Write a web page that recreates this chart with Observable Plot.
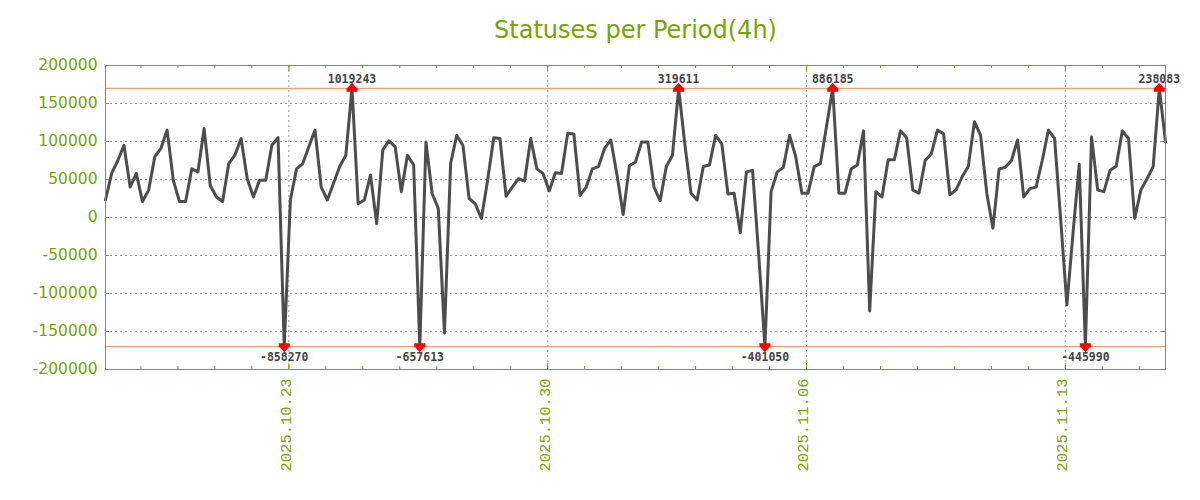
<!DOCTYPE html>
<html>
<head>
<meta charset="utf-8">
<script src="https://cdn.jsdelivr.net/npm/d3@7"></script>
<script src="https://cdn.jsdelivr.net/npm/@observablehq/plot@0.6"></script>
<style>
  body { margin: 0; background: #ffffff; }
</style>
</head>
<body>
<div id="chart"></div>
<script>
// ---- data ----
const title = "Statuses per Period(4h)";
const startTime = "2025-10-18T01:00:00Z";
const stepHours = 4;
const values = [
  23000, 58000, 75000, 95000, 40000, 58000, 21000, 36000, 80000, 91000,
  115000, 49000, 21000, 21000, 64000, 60000, 117000, 42000, 27000, 21000,
  71000, 82000, 104000, 51000, 27000, 49000, 49000, 95000, 105000, -858270,
  23000, 64000, 71000, 93000, 115000, 40000, 23000, 45000, 67000, 82000,
  1019243, 18000, 23000, 56000, -8000, 89000, 101000, 93000, 34000, 82000,
  69000, -657613, 99500, 31600, 12000, -152000, 71000, 108000, 95000, 25000,
  18000, -1300, 49000, 105000, 104000, 28000, 40000, 51000, 48000, 104000,
  64000, 58000, 35000, 59000, 58000, 111000, 110000, 29000, 40000, 64000,
  67000, 91000, 102000, 56000, 4000, 68000, 73000, 99500, 99500, 40000,
  22000, 67000, 82000, 319611, 97000, 32000, 23000, 67000, 69000, 108000,
  97000, 31000, 32000, -20000, 60000, 62000, -50000, -401050, 34000, 60000,
  66000, 108000, 80000, 32000, 32000, 67000, 71000, 120000, 886185, 32000,
  32000, 64000, 69000, 114000, -123000, 34000, 27000, 76000, 76000, 114000,
  105000, 36000, 32000, 75000, 84000, 115000, 110000, 30000, 36000, 53500,
  67000, 126000, 108000, 32000, -14000, 64000, 66000, 75000, 102000, 27000,
  38000, 40000, 75000, 115000, 104000, -3500, -115000, -20000, 70000, -445990,
  106000, 36000, 34000, 62000, 67500, 114000, 104000, -1300, 36000, 51000,
  67000, 238083, 99500
];
const clipLimit = 170000;
const yTicks = [-200000, -150000, -100000, -50000, 0, 50000, 100000, 150000, 200000];
const dateTicks = ["2025-10-23", "2025-10-30", "2025-11-06", "2025-11-13"];

// ---- derived ----
const t0 = new Date(startTime);
const data = values.map((v, i) => ({
  date: new Date(+t0 + i * stepHours * 3600e3),
  value: v,
  shown: Math.max(-clipLimit, Math.min(clipLimit, v))
}));
const clippedTop = data.filter(d => d.value > clipLimit);
const clippedBottom = data.filter(d => d.value < -clipLimit);
const majors = dateTicks.map(s => new Date(s + "T00:00:00Z"));
const xDomain = [data[0].date, data[data.length - 1].date];
const minors = d3.utcDay.range(xDomain[0], xDomain[1]);

const green = "#76a500";
const W = 1200, H = 500;
const mL = 105, mR = 35, mT = 65, mB = 131;
const plotW = W - mL - mR, plotH = H - mT - mB;

const clipMarker = {
  draw(ctx) {
    ctx.moveTo(-5.5, -0.5); ctx.lineTo(5.5, -0.5); ctx.lineTo(5.5, 3.5); ctx.lineTo(-5.5, 3.5); ctx.closePath();
    ctx.moveTo(-4.5, -0.5); ctx.lineTo(0, -5.5); ctx.lineTo(4.5, -0.5); ctx.closePath();
  }
};

const grid = {stroke: "#999", strokeOpacity: 1, strokeDasharray: "2,3"};
const labelFont = {fontFamily: "DejaVu Sans Mono", fontWeight: "bold", fontSize: 11.5, fill: "#444"};

const chart = Plot.plot({
  width: W, height: H,
  marginLeft: mL, marginRight: mR, marginTop: mT, marginBottom: mB,
  style: {fontFamily: "DejaVu Sans", background: "#fff", overflow: "visible"},
  x: {type: "utc", domain: xDomain},
  y: {domain: [-200000, 200000]},
  marks: [
    Plot.gridY(yTicks, grid),
    Plot.gridX(majors, grid),
    Plot.ruleY([clipLimit, -clipLimit], {stroke: "#f4884a", strokeWidth: 1}),
    Plot.line(data, {x: "date", y: "shown", stroke: "#4d4d4d", strokeWidth: 3}),
    Plot.dot(clippedTop, {x: "date", y: "shown", symbol: clipMarker, fill: "#ff0000", r: 5}),
    Plot.dot(clippedBottom, {x: "date", y: "shown", symbol: clipMarker, fill: "#ff0000", r: 5, rotate: 180}),
    Plot.text(clippedTop, {x: "date", y: "shown", text: d => String(d.value), dy: -5, lineAnchor: "bottom", ...labelFont}),
    Plot.text(clippedBottom, {x: "date", y: "shown", text: d => String(d.value), dy: 6, lineAnchor: "top", ...labelFont}),
    // inward ticks
    Plot.tickY(yTicks, {stroke: green, insetRight: plotW - 4}),
    Plot.tickY(yTicks, {stroke: green, insetLeft: plotW - 4}),
    Plot.tickX(minors, {stroke: green, insetTop: plotH - 3}),
    Plot.tickX(minors, {stroke: green, insetBottom: plotH - 3}),
    Plot.tickX(majors, {stroke: green, insetTop: plotH - 6}),
    Plot.tickX(majors, {stroke: green, insetBottom: plotH - 6}),
    Plot.frame({stroke: green, strokeWidth: 1}),
    Plot.axisY(yTicks, {anchor: "left", tickSize: 0, tickPadding: 8, tickFormat: d => String(d),
      fontSize: 15.5, fill: green, label: null}),
    Plot.axisX(majors, {anchor: "bottom", tickSize: 0, tickPadding: 9, tickRotate: -90, dx: -3,
      tickFormat: d3.utcFormat("%Y.%m.%d"), fontSize: 15.5, fontFamily: "Liberation Mono", fill: green, label: null}),
    Plot.text([title], {text: d => d, frameAnchor: "top", dy: -45, fontSize: 24, fill: green,
      fontFamily: "DejaVu Sans"})
  ]
});
document.getElementById("chart").appendChild(chart);
</script>
</body>
</html>
